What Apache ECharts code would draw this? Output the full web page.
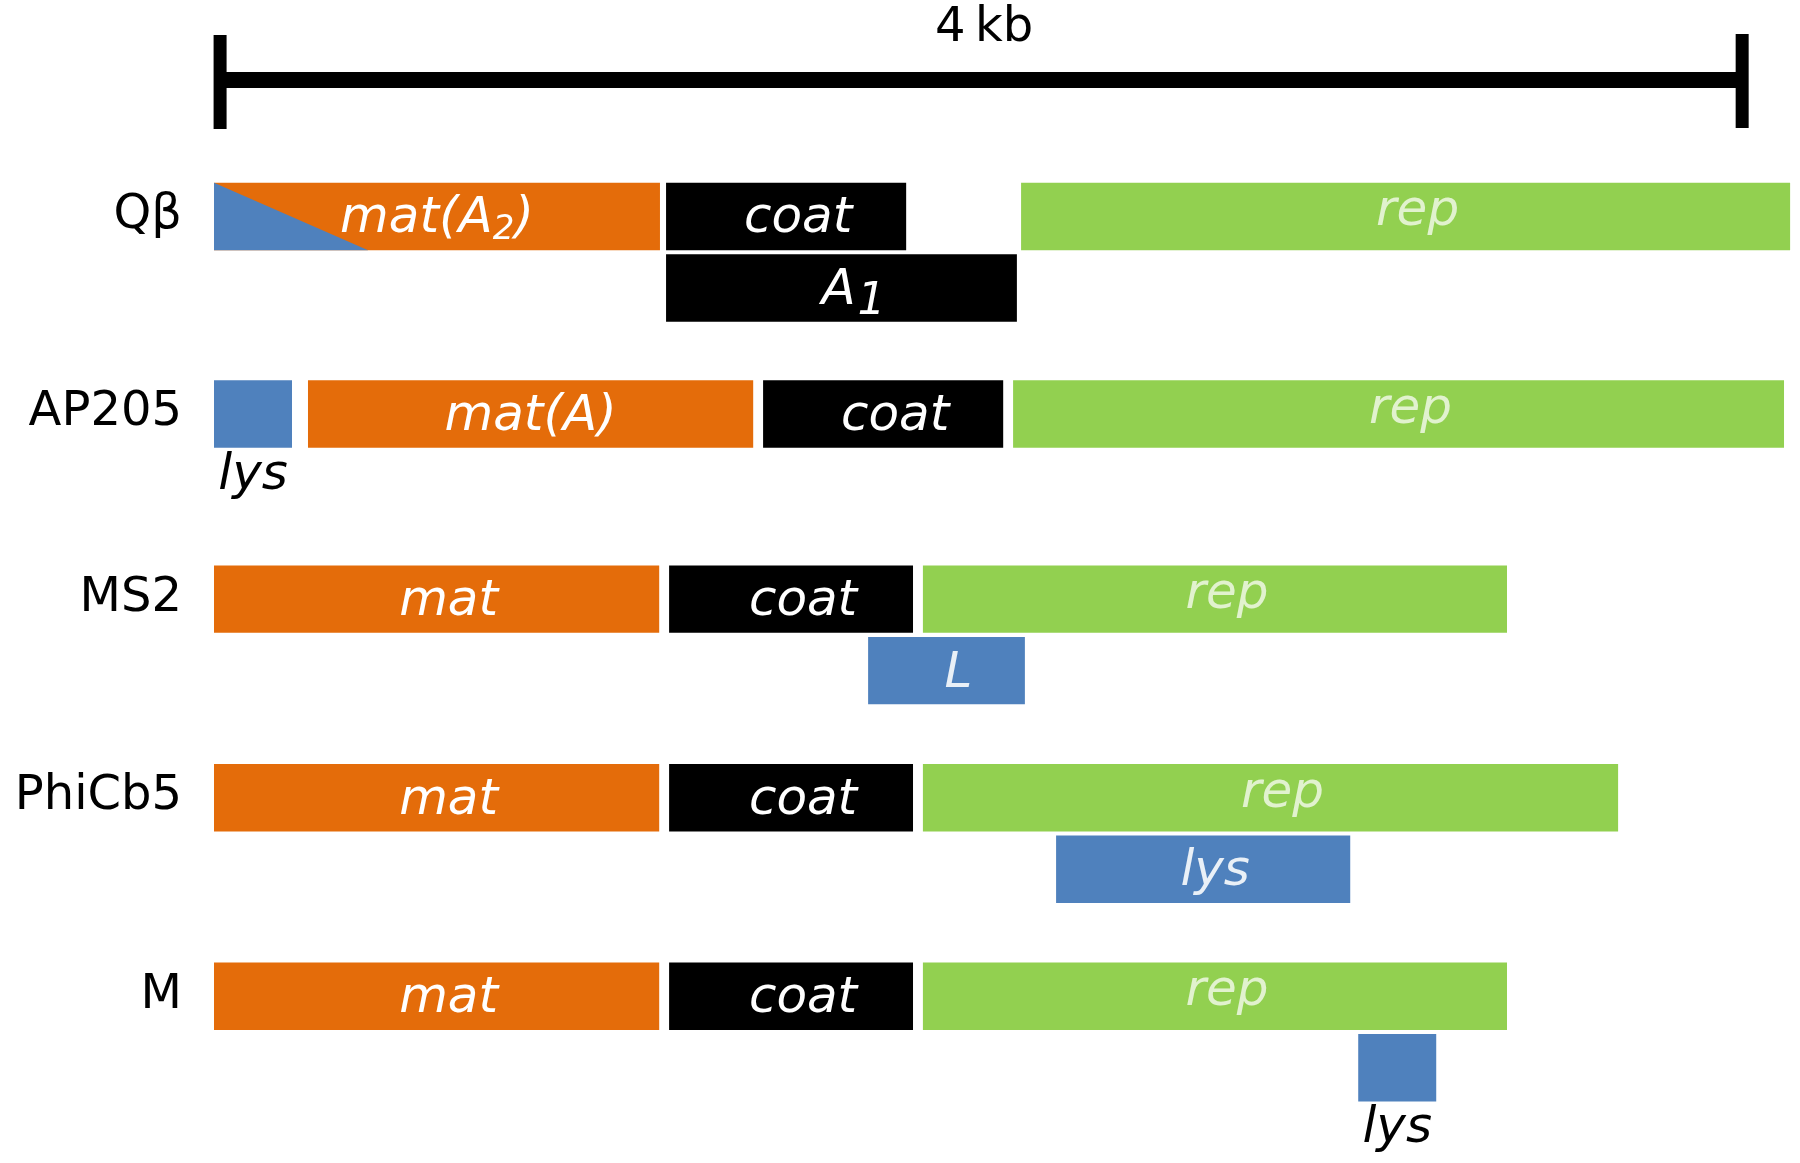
<!DOCTYPE html>
<html><head><meta charset="utf-8">
<script src="https://cdn.jsdelivr.net/npm/echarts@6/dist/echarts.min.js"></script>
<style>html,body{margin:0;padding:0;background:#fff}#c{width:1800px;height:1163px}</style>
</head><body><div id="c"></div>
<script>
// ---- data (positions in nucleotides) ----
const genomes = ['Qβ', 'AP205', 'MS2', 'PhiCb5', 'M'];
// [product, lane, start, end, label]
const qbetaGenes = [
  ['mat', 0, 0, 1172, '{t|mat(A}{s|2}{t|)}'],
  ['coat', 0, 1188, 1819, '{t|coat}'],
  ['coat', 1, 1188, 2110, '{t|A}{s1|1}'],
  ['rep', 0, 2121, 4142, '{t|rep}']
];
const ap205Genes = [
  ['lys', 0, 0, 205, '{t|lys}'],
  ['mat', 0, 247, 1417, '{t|mat(A)}'],
  ['coat', 0, 1443, 2074, '{t|coat}'],
  ['rep', 0, 2100, 4126, '{t|rep}']
];
const ms2Genes = [
  ['mat', 0, 0, 1170, '{t|mat}'],
  ['coat', 0, 1196, 1837, '{t|coat}'],
  ['rep', 0, 1863, 3398, '{t|rep}'],
  ['lys', 1, 1719, 2131, '{t|L}']
];
const phiCb5Genes = [
  ['mat', 0, 0, 1170, '{t|mat}'],
  ['coat', 0, 1196, 1837, '{t|coat}'],
  ['rep', 0, 1863, 3690, '{t|rep}'],
  ['lys', 1, 2213, 2986, '{t|lys}']
];
const mGenes = [
  ['mat', 0, 0, 1170, '{t|mat}'],
  ['coat', 0, 1196, 1837, '{t|coat}'],
  ['rep', 0, 1863, 3398, '{t|rep}'],
  ['lys', 1, 3007, 3212, '{t|lys}']
];
const qbetaLysisWedge = [0, 405];      // A2 lysis region drawn inside mat(A2)
const scaleBarStart = 16;
const scaleBarLength = 4000;
const scaleBarLabel = '4\u2009kb';

// ---- styling / layout ----
const COLORS = { mat: '#E46C0A', coat: '#000000', rep: '#92D050', lys: '#4F81BD' };
const LABEL_FILL = { mat: '#ffffff', coat: '#ffffff', rep: 'rgba(255,255,255,0.72)', lys: 'rgba(255,255,255,0.88)' };
const ROW_Y = [0, 1.013, 1.963, 2.982, 4];   // vertical track positions of the genomes
const LANE_STEP = 0.367;
const BAR_H = 0.346;
const SCALE_Y = -0.70;
const FONT = '"DejaVu Sans", Verdana, sans-serif';

const allGenes = [qbetaGenes, ap205Genes, ms2Genes, phiCb5Genes, mGenes];
const geneMeta = [];
const geneData = [];
allGenes.forEach((list, gi) => {
  list.forEach(g => {
    geneMeta.push({ kind: g[0], label: g[4], wedge: (gi === 0 && g[0] === 'mat') ? qbetaLysisWedge : null });
    geneData.push([g[2], g[3], ROW_Y[gi] + g[1] * LANE_STEP]);
  });
});

function rich(fill) {
  return {
    t: { fontSize: 50, fontStyle: 'italic', fontFamily: FONT, fill: fill },
    s: { fontSize: 34, fontStyle: 'italic', fontFamily: FONT, fill: fill, padding: [22, 0, 0, 0] },
    s1: { fontSize: 44, fontStyle: 'italic', fontFamily: FONT, fill: fill, padding: [24, 0, 0, 2] }
  };
}

function renderGene(params, api) {
  const m = geneMeta[params.dataIndex];
  const yv = api.value(2);
  const p0 = api.coord([api.value(0), yv]);
  const p1 = api.coord([api.value(1), yv]);
  const h = api.size([0, BAR_H])[1];
  const x = p0[0], w = p1[0] - p0[0], y = p0[1] - h / 2;
  const children = [{ type: 'rect', shape: { x: x, y: y, width: w, height: h }, style: { fill: COLORS[m.kind] } }];
  if (m.wedge) {
    const wx0 = api.coord([m.wedge[0], yv])[0];
    const wx1 = api.coord([m.wedge[1], yv])[0];
    children.push({ type: 'polygon', shape: { points: [[wx0, y], [wx0, y + h], [wx1, y + h]] }, style: { fill: COLORS.lys } });
  }
  const below = w < 120;
  const fill = below ? '#000000' : LABEL_FILL[m.kind];
  const dx = (below || m.label.indexOf('mat(') >= 0) ? 0 : 12;
  children.push({
    type: 'text',
    z2: 10,
    style: {
      text: m.label,
      x: x + w / 2 + dx,
      y: below ? y + h + 3 : y + h / 2 + (m.kind === 'rep' ? -4 : 3),
      align: 'center',
      verticalAlign: below ? 'top' : 'middle',
      fill: fill,
      rich: rich(fill)
    }
  });
  return { type: 'group', children: children };
}

function renderGenomeLabel(params, api) {
  const p = api.coord([api.value(0), api.value(1)]);
  return {
    type: 'text',
    style: {
      text: genomes[params.dataIndex],
      x: p[0] - 32, y: p[1] - 1,
      align: 'right', verticalAlign: 'middle',
      fill: '#000', fontSize: 48, fontFamily: FONT
    }
  };
}

function renderScaleBar(params, api) {
  const a = api.coord([api.value(0), SCALE_Y]);
  const b = api.coord([api.value(1), SCALE_Y]);
  const tw = 13;
  return {
    type: 'group',
    children: [
      { type: 'rect', shape: { x: a[0], y: a[1] - 8, width: b[0] - a[0], height: 16 }, style: { fill: '#000' } },
      { type: 'rect', shape: { x: a[0] - tw / 2, y: a[1] - 45, width: tw, height: 94 }, style: { fill: '#000' } },
      { type: 'rect', shape: { x: b[0] - tw / 2, y: b[1] - 46, width: tw, height: 94 }, style: { fill: '#000' } },
      { type: 'text', style: { text: scaleBarLabel, x: (a[0] + b[0]) / 2 + 3, y: a[1] - 52, align: 'center', verticalAlign: 'middle', fill: '#000', fontSize: 48, fontFamily: FONT } }
    ]
  };
}

const chart = echarts.init(document.getElementById('c'), null, { renderer: 'canvas' });
chart.setOption({
  animation: false,
  backgroundColor: '#ffffff',
  grid: { left: 214, right: 0, top: 21.6, bottom: 0 },
  xAxis: { type: 'value', min: 0, max: 4168, show: false },
  yAxis: { type: 'value', inverse: true, min: -1, max: 4.856, show: false },
  series: [
    { type: 'custom', name: 'scale', renderItem: renderScaleBar, data: [[scaleBarStart, scaleBarStart + scaleBarLength]], clip: false },
    { type: 'custom', name: 'genes', renderItem: renderGene, data: geneData, clip: false },
    { type: 'custom', name: 'genomes', renderItem: renderGenomeLabel, data: genomes.map((g, i) => [0, ROW_Y[i]]), clip: false }
  ]
});
</script>
</body></html>
